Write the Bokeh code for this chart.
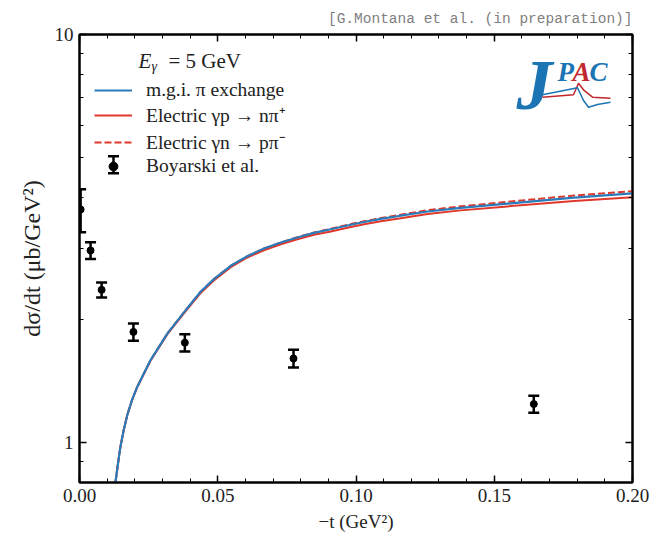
from bokeh.plotting import figure
from bokeh.models import (Range1d, LinearAxis, LogAxis, FixedTicker, Legend, LegendItem,
                          TeeHead, ColumnDataSource, Label, Arrow, PolyAnnotation)
from bokeh.embed import file_html
from bokeh.resources import INLINE

# ---------------- data ----------------
t_data = [0.0004, 0.0040, 0.0080, 0.0195, 0.0381, 0.0774, 0.1643]
dsdt_data = [3.73, 2.96, 2.37, 1.87, 1.76, 1.61, 1.245]
dsdt_err = [0.45, 0.14, 0.10, 0.09, 0.085, 0.08, 0.06]

t_model = [0.0130, 0.0138, 0.0148, 0.0160, 0.0173, 0.0190, 0.0209, 0.0257, 0.0318, 0.0387,
           0.0438, 0.0486, 0.0547, 0.0607, 0.0667, 0.0728, 0.0788, 0.0848, 0.0909, 0.0969,
           0.1029, 0.1090, 0.1156, 0.1259, 0.1379, 0.1548, 0.1789, 0.2000]
mgi_pi = [0.80, 0.878, 0.979, 1.076, 1.171, 1.274, 1.373, 1.595, 1.854, 2.126,
          2.345, 2.518, 2.714, 2.866, 2.992, 3.095, 3.184, 3.267, 3.336, 3.406,
          3.475, 3.535, 3.595, 3.687, 3.763, 3.855, 3.988, 4.081]
electric_p = [0.80, 0.878, 0.979, 1.076, 1.171, 1.273, 1.371, 1.590, 1.846, 2.114,
              2.328, 2.499, 2.694, 2.845, 2.962, 3.064, 3.152, 3.234, 3.295, 3.364,
              3.432, 3.491, 3.544, 3.635, 3.710, 3.794, 3.914, 3.994]
electric_n = [0.80, 0.878, 0.979, 1.076, 1.171, 1.274, 1.373, 1.595, 1.854, 2.126,
              2.345, 2.518, 2.714, 2.866, 2.992, 3.095, 3.189, 3.274, 3.345, 3.418,
              3.491, 3.553, 3.615, 3.714, 3.795, 3.894, 4.033, 4.134]

x_ticks = [0.0, 0.05, 0.10, 0.15, 0.20]
x_tick_labels = ["0.00", "0.05", "0.10", "0.15", "0.20"]
x_minor_ticks = [0.01, 0.02, 0.03, 0.04, 0.06, 0.07, 0.08, 0.09, 0.11, 0.12, 0.13, 0.14,
                 0.16, 0.17, 0.18, 0.19]
y_ticks = [1, 10]
y_tick_labels = ["1", "10"]
y_minor_ticks = [0.8, 0.9, 2, 3, 4, 5, 6, 7, 8, 9]

labels = ["m.g.i. \u03c0 exchange", "Electric \u03b3p \u2192 n\u03c0\u207a",
          "Electric \u03b3n \u2192 p\u03c0\u207b", "Boyarski et al."]
note = "[G.Montana et al. (in preparation)]"

# ---------------- styling constants ----------------
BLUE = "#2b7bba"
RED = "#e0392b"
TXT = "#222222"
SERIF = "Liberation Serif"
W, H = 650, 536
BL, BR, BT, BB = 79, 18, 34, 54
FW, FH = W - BL - BR, H - BT - BB

p = figure(width=W, height=H, x_range=Range1d(0, 0.2), y_range=Range1d(0.8, 10),
           y_axis_type="log", output_backend="svg", toolbar_location=None,
           min_border_left=BL, min_border_right=BR, min_border_top=BT, min_border_bottom=BB)
p.grid.visible = False
p.outline_line_color = "black"
p.outline_line_width = 2
p.background_fill_color = "white"
p.border_fill_color = "white"

# note above the frame, as the figure title
p.title.text = note
p.title.align = "right"
p.title.text_font = "Liberation Mono"
p.title.text_font_size = "14.5px"
p.title.text_font_style = "normal"
p.title.text_color = "#808080"
p.title.standoff = 16
p.title.offset = 0

xt = FixedTicker(ticks=x_ticks, minor_ticks=x_minor_ticks)
yt = FixedTicker(ticks=y_ticks, minor_ticks=y_minor_ticks)


def style_axis(ax):
    ax.axis_line_width = 2
    ax.major_tick_in = 7
    ax.major_tick_out = 0
    ax.minor_tick_in = 4
    ax.minor_tick_out = 0
    ax.major_tick_line_width = 1.5
    ax.minor_tick_line_width = 1
    ax.major_label_text_font = SERIF
    ax.major_label_text_font_size = "19px"
    ax.major_label_text_color = TXT
    ax.axis_label_text_font = SERIF
    ax.axis_label_text_font_style = "normal"
    ax.axis_label_text_color = TXT


xa = p.xaxis[0]
xa.ticker = xt
xa.major_label_overrides = dict(zip(x_ticks, x_tick_labels))
xa.axis_label = "\u2212t (GeV\u00b2)"
style_axis(xa)
xa.axis_label_text_font_size = "19px"
xa.major_label_standoff = 6
xa.axis_label_standoff = 6

ya = p.yaxis[0]
ya.ticker = yt
ya.major_label_overrides = dict(zip(y_ticks, y_tick_labels))
ya.axis_label = "d\u03c3/dt (\u03bcb/GeV\u00b2)"
style_axis(ya)
ya.axis_label_text_font_size = "24px"
ya.major_label_standoff = 6
ya.axis_label_standoff = 7

top = LinearAxis(ticker=xt)
style_axis(top)
top.major_label_text_font_size = "2px"
top.major_label_text_color = None
top.major_label_standoff = 0
p.add_layout(top, "above")

right = LogAxis(ticker=yt)
style_axis(right)
right.major_label_text_font_size = "2px"
right.major_label_text_color = None
right.major_label_standoff = 0
p.add_layout(right, "right")

# ---------------- curves ----------------
r_red = p.line(t_model, electric_p, line_color=RED, line_width=2)
r_dash = p.line(t_model, electric_n, line_color=RED, line_width=2, line_dash="7 3")
r_blue = p.line(t_model, mgi_pi, line_color=BLUE, line_width=2.2)

# ---------------- data points with error bars ----------------
lower = [v - e for v, e in zip(dsdt_data, dsdt_err)]
upper = [v + e for v, e in zip(dsdt_data, dsdt_err)]
src = ColumnDataSource(dict(t=t_data, y=dsdt_data, lo=lower, up=upper))
p.segment(x0="t", y0="lo", x1="t", y1="up", source=src, line_color="black", line_width=2.5)
p.scatter("t", "lo", source=src, marker="dash", size=11, line_width=2.5, line_color="black")
p.scatter("t", "up", source=src, marker="dash", size=11, line_width=2.5, line_color="black")
r_pts = p.scatter("t", "y", source=src, size=7, color="black")

# ---------------- legend ----------------
LEG_BOTTOM = 305        # frame-relative, from the bottom
ROW_H = 25.7            # height of one legend row as laid out by Bokeh at this font size
legend = Legend(items=[LegendItem(label=labels[0], renderers=[r_blue]),
                       LegendItem(label=labels[1], renderers=[r_red]),
                       LegendItem(label=labels[2], renderers=[r_dash]),
                       LegendItem(label=labels[3], renderers=[r_pts])],
                location=(15, LEG_BOTTOM), padding=0, margin=0, spacing=0,
                glyph_width=38, glyph_height=22, label_height=22, label_standoff=14,
                border_line_alpha=0, background_fill_alpha=0,
                label_text_font=SERIF, label_text_font_size="19.5px", label_text_color=TXT)
p.add_layout(legend, "center")

# error-bar icon over the legend dot
ey = LEG_BOTTOM + ROW_H / 2
p.add_layout(Arrow(x_start=34, y_start=ey - 8.5, x_end=34, y_end=ey + 8.5,
                   start_units="screen", end_units="screen", line_width=2.5, line_color="black",
                   start=TeeHead(size=11, line_width=2.5, line_color="black"),
                   end=TeeHead(size=11, line_width=2.5, line_color="black")))

# legend title  E_gamma = 5 GeV
ty = FH - 26
p.add_layout(Label(x=59, y=ty, x_units="screen", y_units="screen", text="E",
                   text_font=SERIF, text_font_style="italic", text_font_size="21px",
                   text_baseline="middle", text_color=TXT))
p.add_layout(Label(x=72, y=ty - 6, x_units="screen", y_units="screen", text="\u03b3",
                   text_font=SERIF, text_font_style="italic", text_font_size="14px",
                   text_baseline="middle", text_color=TXT))
p.add_layout(Label(x=89, y=ty, x_units="screen", y_units="screen", text="= 5 GeV",
                   text_font=SERIF, text_font_size="21px",
                   text_baseline="middle", text_color=TXT))

# ---------------- JPAC logo ----------------
LOGO_BLUE = "#1b74b3"
LOGO_RED = "#c1272d"
p.add_layout(Label(x=437, y=FH - 50, x_units="screen", y_units="screen", text="J",
                   text_font=SERIF, text_font_style="bold italic", text_font_size="72px",
                   text_baseline="middle", text_color=LOGO_BLUE))
for ch, lx, col in (("P", 478, LOGO_BLUE), ("A", 493, LOGO_RED), ("C", 510, LOGO_BLUE)):
    p.add_layout(Label(x=lx, y=FH - 37, x_units="screen", y_units="screen", text=ch,
                       text_font=SERIF, text_font_style="bold italic", text_font_size="27px",
                       text_baseline="middle", text_color=col))

logo_red_x = [463, 494, 499, 504, 513, 531]
logo_red_dy = [62.7, 60.3, 48.7, 55.3, 62.7, 63.7]
logo_blue_x = [463, 488, 498, 504, 509, 518, 531]
logo_blue_dy = [60.3, 55.3, 53.3, 66, 72.7, 70, 67.7]
for lx, ldy, col in ((logo_red_x, logo_red_dy, LOGO_RED), (logo_blue_x, logo_blue_dy, LOGO_BLUE)):
    xs = lx + lx[::-1]
    ys = [FH - d for d in ldy + ldy[::-1]]
    p.add_layout(PolyAnnotation(xs=xs, ys=ys, xs_units="screen", ys_units="screen",
                                fill_alpha=0, line_color=col, line_alpha=1.0, line_width=1.5))

open("out.html", "w").write(file_html(p, INLINE))
